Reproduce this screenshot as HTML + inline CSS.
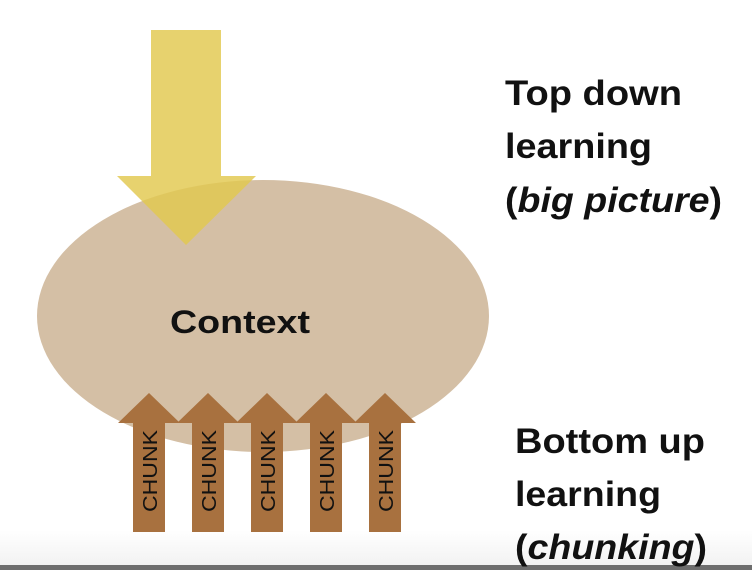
<!DOCTYPE html>
<html><head><style>
html,body{margin:0;padding:0;background:#fff;}
svg{display:block;}
text{font-family:"Liberation Sans",sans-serif;font-weight:bold;fill:#111;}
</style></head><body>
<svg width="752" height="570" viewBox="0 0 752 570" xmlns="http://www.w3.org/2000/svg">
<defs>
<linearGradient id="bg" x1="0" y1="0" x2="0" y2="1">
<stop offset="0" stop-color="#fff"/><stop offset="1" stop-color="#f2f2f2"/>
</linearGradient>
</defs>
<rect x="0" y="530" width="752" height="36" fill="url(#bg)"/>
<rect x="0" y="565" width="752" height="5" fill="#6e6e6e"/>
<ellipse cx="263" cy="316" rx="226" ry="136" fill="#d4bfa5"/>
<polygon points="151,30 221,30 221,176 256,176 186,245 117,176 151,176" fill="#e2c84e" fill-opacity="0.82"/>
<text x="240" y="333" font-size="32" text-anchor="middle" textLength="140" lengthAdjust="spacingAndGlyphs">Context</text>
<g fill="#a8713f">
<polygon points="133,532 133,423 118,423 149,393 180,423 165,423 165,532"/>
<polygon points="192,532 192,423 177,423 208,393 239,423 224,423 224,532"/>
<polygon points="251,532 251,423 236,423 267,393 298,423 283,423 283,532"/>
<polygon points="310,532 310,423 295,423 326,393 357,423 342,423 342,532"/>
<polygon points="369,532 369,423 354,423 385,393 416,423 401,423 401,532"/>
</g>
<g font-size="20">
<text transform="translate(157,512) rotate(-90)" textLength="82" lengthAdjust="spacingAndGlyphs" style="font-weight:normal">CHUNK</text>
<text transform="translate(216,512) rotate(-90)" textLength="82" lengthAdjust="spacingAndGlyphs" style="font-weight:normal">CHUNK</text>
<text transform="translate(275,512) rotate(-90)" textLength="82" lengthAdjust="spacingAndGlyphs" style="font-weight:normal">CHUNK</text>
<text transform="translate(334,512) rotate(-90)" textLength="82" lengthAdjust="spacingAndGlyphs" style="font-weight:normal">CHUNK</text>
<text transform="translate(393,512) rotate(-90)" textLength="82" lengthAdjust="spacingAndGlyphs" style="font-weight:normal">CHUNK</text>
</g>
<g font-size="35">
<text x="505" y="105" textLength="177" lengthAdjust="spacingAndGlyphs">Top down</text>
<text x="505" y="158" textLength="147" lengthAdjust="spacingAndGlyphs">learning</text>
<text x="505" y="212" textLength="217" lengthAdjust="spacingAndGlyphs">(<tspan font-style="italic">big picture</tspan>)</text>
<text x="515" y="453" textLength="190" lengthAdjust="spacingAndGlyphs">Bottom up</text>
<text x="515" y="506" textLength="146" lengthAdjust="spacingAndGlyphs">learning</text>
<text x="515" y="559" textLength="192" lengthAdjust="spacingAndGlyphs">(<tspan font-style="italic">chunking</tspan>)</text>
</g>
</svg>
</body></html>
